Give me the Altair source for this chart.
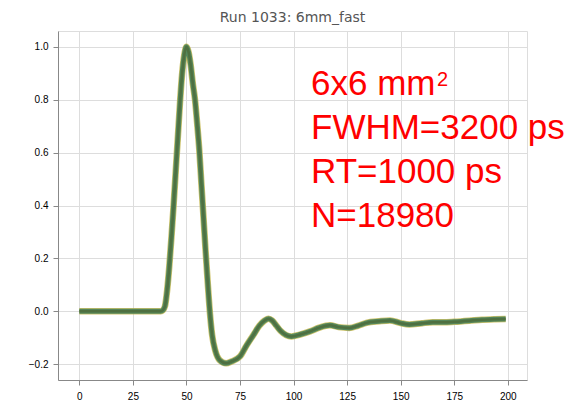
import altair as alt
import pandas as pd

# Waveform key points (sample index, normalized amplitude)
t_vals = [0, 10, 20, 30, 38, 39, 40, 41, 42, 43, 44, 45, 46, 47, 48, 49, 50,
          51, 52, 53, 54, 55, 56, 57, 58, 59, 60, 61, 62,
          63.5, 65.5, 68.5, 71, 75, 78, 81.3, 84, 86.5, 88.3, 90, 92, 94, 96.5,
          99, 103, 107.7, 112, 117, 121, 126, 130, 134, 140, 145, 150, 154, 160,
          165, 170, 175, 182, 188, 194, 199]
v_vals = [0.0, 0.0, 0.0, 0.0, 0.0, 0.004, 0.02, 0.08, 0.17, 0.28, 0.4, 0.53, 0.66, 0.79, 0.9, 0.97, 1.0,
          0.98, 0.93, 0.86, 0.8, 0.71, 0.61, 0.48, 0.35, 0.22, 0.1, -0.01, -0.09,
          -0.15, -0.185, -0.197, -0.19, -0.171, -0.13, -0.089, -0.055, -0.035, -0.028, -0.035, -0.055, -0.075, -0.09,
          -0.095, -0.088, -0.076, -0.062, -0.053, -0.06, -0.063, -0.055, -0.044, -0.038, -0.035, -0.045, -0.05, -0.045,
          -0.042, -0.042, -0.04, -0.036, -0.032, -0.030, -0.029]

x_ticks = [0, 25, 50, 75, 100, 125, 150, 175, 200]
y_ticks = [-0.2, 0.0, 0.2, 0.4, 0.6, 0.8, 1.0]

title_text = "Run 1033: 6mm_fast"
annotation_lines = ["6x6 mm", "FWHM=3200 ps", "RT=1000 ps", "N=18980"]
superscript = "2"

df = pd.DataFrame({"t": t_vals, "v": v_vals})

x_enc = alt.X("t:Q", scale=alt.Scale(domain=[-9.95, 208.95], nice=False, zero=False),
              axis=alt.Axis(values=x_ticks, title=None, format="d", labelPadding=6))
y_enc = alt.Y("v:Q", scale=alt.Scale(domain=[-0.26, 1.06], nice=False, zero=False),
              axis=alt.Axis(values=y_ticks, title=None, format=".1f", labelPadding=5))

base = alt.Chart(df)

under = base.mark_line(color="#c2b447", strokeWidth=6.5, interpolate="monotone",
                       opacity=0.8).encode(x=x_enc, y=y_enc)
mid = base.mark_line(color="#55865a", strokeWidth=5, interpolate="monotone").encode(x="t:Q", y="v:Q")
core = base.mark_line(color="#4f7040", strokeWidth=2.5, interpolate="monotone").encode(x="t:Q", y="v:Q")

one = pd.DataFrame({"a": [0]})
text = alt.Chart(one).mark_text(
    align="left", baseline="alphabetic", fontSize=35, lineHeight=44,
    color="#ff0000", font="Liberation Sans"
).encode(x=alt.value(253), y=alt.value(64), text=alt.value(annotation_lines))

sup = alt.Chart(one).mark_text(
    align="left", baseline="alphabetic", fontSize=20,
    color="#ff0000", font="Liberation Sans"
).encode(x=alt.value(379), y=alt.value(55), text=alt.value(superscript))

chart = alt.layer(under, mid, core, text, sup).properties(
    width=469, height=349,
    title=alt.TitleParams(text=title_text, fontSize=14, font="DejaVu Sans",
                          fontWeight="normal", color="#555555", offset=6),
    autosize=alt.AutoSizeParams(type="none"),
    padding={"left": 58, "top": 31, "right": 55, "bottom": 24},
).configure_view(
    stroke="#555555", strokeWidth=1.2
).configure_axis(
    grid=True, gridColor="#d9d9d9", gridWidth=1,
    domain=False, tickColor="#555555", tickSize=4,
    labelFont="DejaVu Sans", labelFontSize=10.5, labelColor="#555555",
).configure(background="white")

chart.save("out.html", embed_options={"renderer": "svg", "actions": False})
